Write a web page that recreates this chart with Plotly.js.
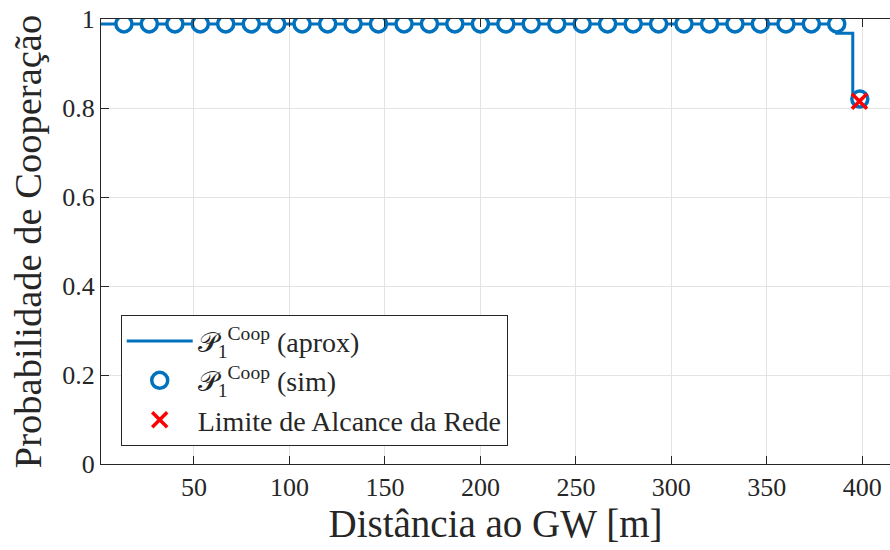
<!DOCTYPE html>
<html>
<head>
<meta charset="utf-8">
<script src="https://cdn.plot.ly/plotly-3.0.1.min.js"></script>
<style>html,body{margin:0;padding:0;background:#fff;}#chart{width:890px;height:550px;}</style>
</head>
<body>
<div id="chart"></div>
<script>
// Data
const approxX = [0, 386.6, 395.0, 398.7];
const approxY = [0.989, 0.968, 0.825, 0.825];

const simX = [13.3, 26.6, 40.0, 53.3, 66.6, 80.0, 93.3, 106.6, 120.0, 133.3,
              146.6, 160.0, 173.3, 186.6, 200.0, 213.3, 226.6, 240.0, 253.3, 266.6,
              280.0, 293.3, 306.6, 320.0, 333.3, 346.6, 360.0, 373.3, 386.6, 398.7];
const simY = [0.989, 0.989, 0.989, 0.989, 0.989, 0.989, 0.989, 0.989, 0.989, 0.989,
              0.989, 0.989, 0.989, 0.989, 0.989, 0.989, 0.989, 0.989, 0.989, 0.989,
              0.989, 0.989, 0.989, 0.989, 0.989, 0.989, 0.989, 0.989, 0.989, 0.82];

const limitX = [398.5];
const limitY = [0.815];

const xTicks = [50, 100, 150, 200, 250, 300, 350, 400];
const yTicks = [0, 0.2, 0.4, 0.6, 0.8, 1];
const yTickText = ['0', '0.2', '0.4', '0.6', '0.8', '1'];

const seriesNames = [
  '𝒫<sub>1</sub><sup>Coop</sup> (aprox)',
  '𝒫<sub>1</sub><sup>Coop</sup> (sim)',
  'Limite de Alcance da Rede'
];

const blue = '#0072BD';
const FONT = 'Liberation Serif, DejaVu Serif, serif';

const traces = [
  {x: approxX, y: approxY, type: 'scatter', mode: 'lines', name: seriesNames[0],
   line: {color: blue, width: 3, shape: 'hv'}},
  {x: simX, y: simY, type: 'scatter', mode: 'markers', name: seriesNames[1],
   marker: {symbol: 'circle', size: 16, color: '#ffffff', line: {width: 3.5, color: blue}}},
  {x: limitX, y: limitY, type: 'scatter', mode: 'markers', name: seriesNames[2],
   marker: {symbol: 'x-thin', size: 15, color: '#FF0000', line: {width: 3.5, color: '#FF0000'}}}
];

const layout = {
  width: 890, height: 550,
  margin: {l: 101, r: 0, t: 19, b: 86},
  paper_bgcolor: '#ffffff', plot_bgcolor: '#ffffff',
  font: {family: FONT, color: '#262626', size: 26},
  showlegend: true,
  legend: {
    x: 0.025, y: 0.04, xanchor: 'left', yanchor: 'bottom',
    bgcolor: '#ffffff', bordercolor: '#262626', borderwidth: 1,
    font: {family: FONT, size: 28, color: '#262626'},
    itemwidth: 66,
    tracegroupgap: 0
  },
  xaxis: {
    range: [1.3, 414.5],
    tickmode: 'array', tickvals: xTicks, ticktext: xTicks.map(String),
    ticks: 'inside', ticklen: 8, tickcolor: '#262626', tickwidth: 1,
    showline: true, linecolor: '#262626', linewidth: 1, mirror: 'ticks',
    showgrid: true, gridcolor: '#e3e3e3', gridwidth: 1,
    zeroline: false,
    tickfont: {family: FONT, size: 26, color: '#262626'},
    title: {text: 'Distância ao GW [m]', font: {family: FONT, size: 39, color: '#262626'}, standoff: 8}
  },
  yaxis: {
    range: [0, 1],
    tickmode: 'array', tickvals: yTicks, ticktext: yTickText,
    ticks: 'inside', ticklen: 8, tickcolor: '#262626', tickwidth: 1,
    showline: true, linecolor: '#262626', linewidth: 1, mirror: false,
    showgrid: true, gridcolor: '#e3e3e3', gridwidth: 1,
    zeroline: false,
    tickfont: {family: FONT, size: 26, color: '#262626'},
    title: {text: 'Probabilidade de Cooperação', font: {family: FONT, size: 38.5, color: '#262626'}, standoff: 8}
  }
};

Plotly.newPlot('chart', traces, layout, {displayModeBar: false, staticPlot: true});
</script>
</body>
</html>
